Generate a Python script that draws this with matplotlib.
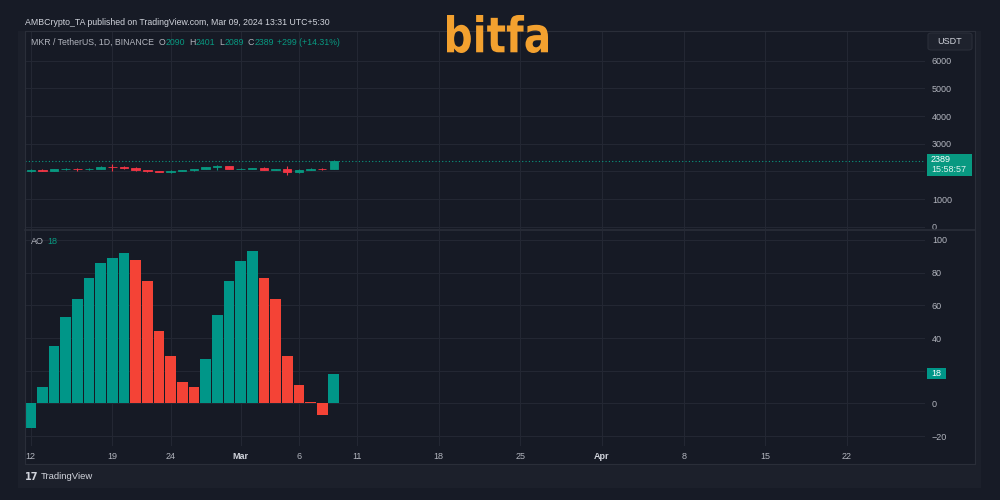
import numpy as np
import pandas as pd
import matplotlib
matplotlib.use('Agg')
import matplotlib.pyplot as plt
from matplotlib.patches import Rectangle, FancyBboxPatch, PathPatch
from matplotlib.textpath import TextPath
from matplotlib.font_manager import FontProperties
from matplotlib.transforms import Affine2D
from matplotlib.lines import Line2D

plt.rcParams['font.family'] = ['Liberation Sans', 'DejaVu Sans']

# ---------------- data ----------------
dates = pd.date_range('2024-02-12', '2024-03-09', freq='D')
opens  = [2000, 2060, 2030, 2070, 2080, 2068, 2100, 2165, 2150, 2135, 2035, 2010, 1975, 2030,
          2045, 2085, 2160, 2180, 2090, 2100, 2115, 2060, 2072, 1965, 2055, 2100, 2090]
highs  = [2085, 2090, 2085, 2110, 2130, 2115, 2180, 2260, 2200, 2150, 2060, 2025, 2050, 2060,
          2095, 2170, 2240, 2210, 2115, 2130, 2150, 2090, 2180, 2075, 2110, 2130, 2401]
lows   = [1985, 2010, 2015, 2040, 2030, 2050, 2095, 2010, 2100, 2020, 1990, 1960, 1950, 2010,
          2030, 2070, 2045, 2080, 2070, 2085, 2050, 2040, 1880, 1950, 2040, 2060, 2089]
closes = [2060, 2030, 2070, 2078, 2068, 2100, 2165, 2150, 2135, 2035, 2010, 1975, 2030, 2045,
          2080, 2160, 2180, 2090, 2100, 2115, 2060, 2072, 1965, 2055, 2100, 2090, 2389]
ao = [-15, 10, 35, 53, 64, 77, 86, 89, 92, 88, 75, 44, 29, 13, 10, 27, 54, 75, 87, 93,
      77, 64, 29, 11, 1, -7, 18]

tick_dates = ['2024-02-12', '2024-02-19', '2024-02-24', '2024-03-01', '2024-03-06', '2024-03-11',
              '2024-03-18', '2024-03-25', '2024-04-01', '2024-04-08', '2024-04-15', '2024-04-22']
tick_labels = ['12', '19', '24', 'Mar', '6', '11', '18', '25', 'Apr', '8', '15', '22']
price_ticks = [0, 1000, 3000, 4000, 5000, 6000]
price_grid = [0, 1000, 2000, 3000, 4000, 5000, 6000]
ao_ticks = [-20, 0, 40, 60, 80, 100]
ao_grid = [-20, 0, 20, 40, 60, 80, 100]

# ---------------- style ----------------
W, H = 1000, 500
BG = '#171b26'
PANE = '#161a25'
FRAME = '#1c202b'
BORDER = '#2a2e39'
GRID = '#232733'
UP = '#089981'
DN = '#f23645'
AO_UP = '#009688'
AO_DN = '#f44336'
TXT = '#b2b5be'
TXT2 = '#d1d4dc'

fig = plt.figure(figsize=(W / 100, H / 100), dpi=100, facecolor=BG)


def fx(x):
    return x / W


def fy(y):
    return 1 - y / H


def rect_px(x0, y0, x1, y1, **kw):
    r = Rectangle((fx(x0), fy(y1)), (x1 - x0) / W, (y1 - y0) / H,
                  transform=fig.transFigure, **kw)
    fig.add_artist(r)
    return r


def line_px(x0, y0, x1, y1, **kw):
    l = Line2D([fx(x0), fx(x1)], [fy(y0), fy(y1)], transform=fig.transFigure, **kw)
    fig.add_artist(l)


# frame
rect_px(18, 31, 981, 488, facecolor=FRAME, edgecolor='none', zorder=-5)
rect_px(25, 31, 975, 464, facecolor=PANE, edgecolor='none', zorder=-4)

x0_date = dates[0]
xs = np.array([(d - x0_date).days for d in dates])
tick_x = [(pd.Timestamp(t) - x0_date).days for t in tick_dates]
XL = (-0.49, 76.7)


def add_ax(x0, y0, x1, y1):
    ax = fig.add_axes([fx(x0), fy(y1), (x1 - x0) / W, (y1 - y0) / H])
    ax.set_facecolor(PANE)
    for s in ax.spines.values():
        s.set_visible(False)
    ax.set_xlim(*XL)
    return ax


# ---------------- price pane ----------------
axp = add_ax(25, 31, 925, 229)
axp.set_ylim(-83, 7073)
for g in price_grid:
    axp.axhline(g, color=GRID, lw=0.8, zorder=0)
for t in tick_x:
    axp.axvline(t, color=GRID, lw=0.8, zorder=0)
axp.yaxis.tick_right()
axp.set_yticks(price_ticks)
axp.set_yticklabels([str(v) for v in price_ticks])
axp.tick_params(axis='y', length=0, pad=5, labelsize=6.5, labelcolor=TXT)
axp.set_xticks([])

for i in range(len(xs)):
    o, h, l, c = opens[i], highs[i], lows[i], closes[i]
    col = UP if c >= o else DN
    axp.vlines(xs[i], l, h, color=col, lw=0.8, zorder=2)
    axp.bar(xs[i], abs(c - o), bottom=min(o, c), width=0.72, color=col,
            edgecolor=col, linewidth=0.6, zorder=3)
axp.axhline(closes[-1], color=UP, lw=0.8, ls=(0, (1, 2)), zorder=1)

# ---------------- AO pane ----------------
axa = add_ax(25, 231, 925, 446)
axa.set_ylim(-26.1, 105.5)
for g in ao_grid:
    axa.axhline(g, color=GRID, lw=0.8, zorder=0)
for t in tick_x:
    axa.axvline(t, color=GRID, lw=0.8, zorder=0)
ao_cols = [AO_UP] + [AO_UP if ao[i] >= ao[i - 1] else AO_DN for i in range(1, len(ao))]
axa.bar(xs, ao, width=0.92, color=ao_cols, zorder=3)
axa.yaxis.tick_right()
axa.set_yticks(ao_ticks)
axa.set_yticklabels([str(v).replace('-', '\u2212') for v in ao_ticks])
axa.tick_params(axis='y', length=0, pad=5, labelsize=6.5, labelcolor=TXT)
axa.set_xticks(tick_x)
axa.set_xticklabels(tick_labels)
axa.tick_params(axis='x', length=0, pad=4, labelsize=6.5, labelcolor=TXT)
for lab in axa.get_xticklabels():
    if lab.get_text() in ('Mar', 'Apr'):
        lab.set_fontweight('bold')
        lab.set_color(TXT2)

# borders
line_px(25, 31, 975, 31, color=BORDER, lw=0.8)
line_px(25, 230, 975, 230, color=BORDER, lw=1.2)
line_px(25, 464, 975, 464, color=BORDER, lw=0.8)
line_px(25, 31, 25, 464, color=BORDER, lw=0.8)
line_px(975, 31, 975, 464, color=BORDER, lw=0.8)

# ---------------- texts ----------------
fig.text(fx(25), fy(22.7), 'AMBCrypto_TA published on TradingView.com, Mar 09, 2024 13:31 UTC+5:30',
         color=TXT2, fontsize=6.3, va='center', ha='left')

renderer = fig.canvas.get_renderer()


def seq_text(x, y, segments, fs):
    """Lay out (text, colour, gap_after_px) segments one after another."""
    for s, c, gap in segments:
        t = fig.text(fx(x), fy(y), s, color=c, fontsize=fs, va='center', ha='left')
        w = t.get_window_extent(renderer).width
        x += w + gap


legend_segments = [
    ('MKR / TetherUS, 1D, BINANCE', TXT, 5),
    ('O', TXT, 0.5), (f'{opens[-1]}', UP, 3.5),
    ('H', TXT, 0.5), (f'{highs[-1]}', UP, 3.5),
    ('L', TXT, 0.5), (f'{lows[-1]}', UP, 3.5),
    ('C', TXT, 0.5), (f'{closes[-1]}', UP, 3.5),
    (f'+{closes[-1] - opens[-1]} (+14.31%)', UP, 0),
]
seq_text(30.7, 42.3, legend_segments, 6.3)

seq_text(30.5, 242, [('AO', TXT, 4), (f'{ao[-1]}', UP, 0)], 6.5)

# USDT box
fig.add_artist(FancyBboxPatch((fx(928), fy(50)), 44 / W, 17 / H,
                              boxstyle='round,pad=0,rounding_size=0.004',
                              transform=fig.transFigure, facecolor='#1e222d',
                              edgecolor=BORDER, lw=0.8, zorder=5))
fig.text(fx(950), fy(41.5), 'USDT', color=TXT2, fontsize=6.5, va='center', ha='center', zorder=6)

# last price label
rect_px(927, 154, 972, 176, facecolor=UP, edgecolor='none', zorder=5)
fig.text(fx(931), fy(159.8), f'{closes[-1]}', color='white', fontsize=6.5, va='center',
         ha='left', zorder=6)
fig.text(fx(931), fy(169.8), '15:58:57', color='#e0f2ef', fontsize=6.5, va='center',
         ha='left', zorder=6)

# AO value label
rect_px(927, 368, 946, 379, facecolor=AO_UP, edgecolor='none', zorder=5)
fig.text(fx(936.5), fy(373.5), f'{ao[-1]}', color='white', fontsize=6.5, va='center',
         ha='center', zorder=6)

# TradingView footer
fig.text(fx(25), fy(476.5), '17', color=TXT2, fontsize=7, fontweight='bold',
         va='center', ha='left', family='DejaVu Sans')
fig.text(fx(40.5), fy(476.5), 'TradingView', color=TXT2, fontsize=6.8, va='center', ha='left')

# bitfa watermark
fp = FontProperties(family='DejaVu Sans', weight='bold')
tp = TextPath((0, 0), 'bitfa', size=1, prop=fp)
bb = tp.get_extents()
tr = (Affine2D().translate(-bb.x0, -bb.y0)
      .scale(101 / bb.width, 38 / bb.height)
      .translate(447, H - 53)
      .scale(1 / W, 1 / H)) + fig.transFigure
fig.add_artist(PathPatch(tp, transform=tr, facecolor='#f3a12f', edgecolor='none', zorder=7))

fig.savefig('out.png', dpi=100, facecolor=BG)
